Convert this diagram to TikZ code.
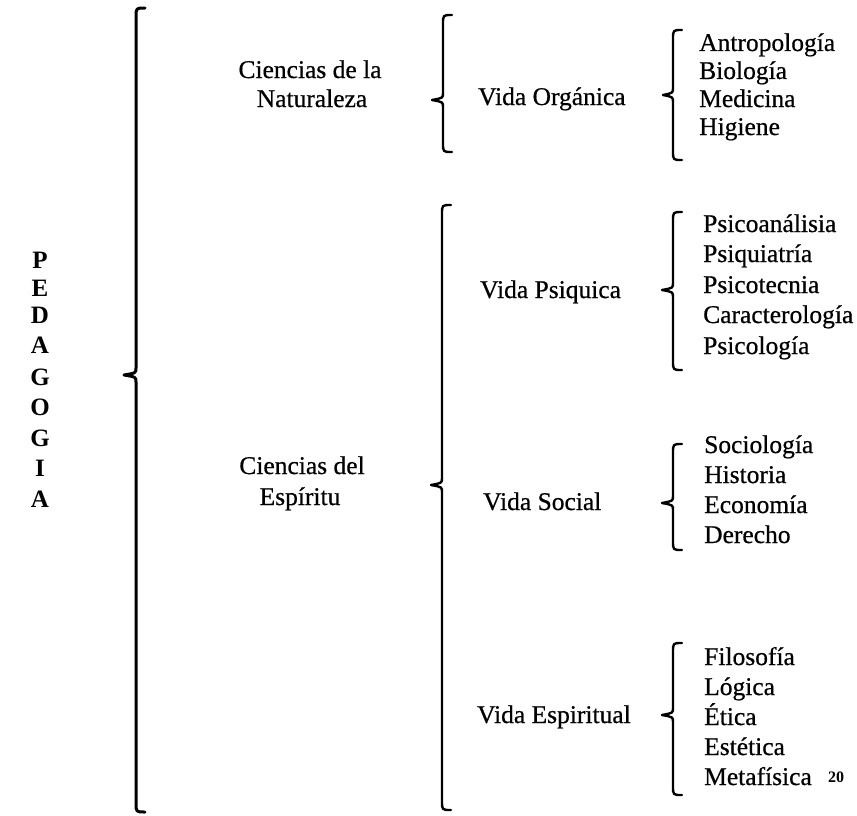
\documentclass[tikz,border=0pt]{standalone}
\usepackage{fontspec}
\setmainfont{Liberation Serif}
\newcommand\mybrace[6][2.4pt]{%
  \draw[line width=#1,line cap=round,line join=round]
    ({#2+9},#3) .. controls (#2,#3) .. (#2,{#3+9})
    -- (#2,{#4-7}) .. controls (#2,{#4-2}) .. ({#2-#6},#4)
    .. controls (#2,{#4+2}) .. (#2,{#4+7})
    -- (#2,{#5-9}) .. controls (#2,#5) .. ({#2+9},#5);}
\begin{document}
\begin{tikzpicture}[x=1pt,y=-1pt,
  txt/.style={inner sep=0pt,anchor=base west,font=\fontsize{25.5}{30}\selectfont\addfontfeature{FakeBold=0.6}},
  ctxt/.style={inner sep=0pt,anchor=base,font=\fontsize{25.5}{30}\selectfont\addfontfeature{FakeBold=0.6}},
  letter/.style={inner sep=0pt,anchor=base,font=\fontsize{25}{28}\selectfont\bfseries}]
\useasboundingbox (0,0) rectangle (857,816);

% PEDAGOGIA
\foreach \l/\y [count=\i] in {P/268,E/296,D/323,A/353,G/385,O/415,G/446,I/476,A/507}
  \node[letter] (ped\i) at (40,\y) {\l};

% big brace
\mybrace[3pt]{136}{8}{375}{812}{12}

% level 1
\node[ctxt] (cn1) at (310,78) {Ciencias de la};
\node[ctxt] (cn2) at (312,107) {Naturaleza};
\node[ctxt] (ce1) at (302,474) {Ciencias del};
\node[ctxt] (ce2) at (300,505) {Espíritu};

\mybrace{443}{15}{100}{152}{11}
\mybrace{442}{205}{485}{810}{11}

% level 2
\node[txt] (vo) at (478,105) {Vida Orgánica};
\node[txt] (vp) at (480,298) {Vida Psiquica};
\node[txt] (vs) at (483,510) {Vida Social};
\node[txt] (ve) at (477,723) {Vida Espiritual};

\mybrace{673}{30}{95}{160}{10}
\mybrace{673}{212}{290}{370}{11}
\mybrace{673}{444}{503}{550}{11}
\mybrace{673}{643}{715}{795}{11}

% level 3
\foreach \t/\y [count=\i] in {Antropología/51,Biología/79,Medicina/107,Higiene/135}
  \node[txt] (a\i) at (699,\y) {\t};
\foreach \t/\y [count=\i] in {Psicoanálisia/232,Psiquiatría/262,Psicotecnia/293,Caracterología/323,Psicología/354}
  \node[txt] (b\i) at (703,\y) {\t};
\foreach \t/\y [count=\i] in {Sociología/453,Historia/483,Economía/513,Derecho/543}
  \node[txt] (c\i) at (704,\y) {\t};
\foreach \t/\y [count=\i] in {Filosofía/665,Lógica/695,Ética/725,Estética/755,Metafísica/785}
  \node[txt] (d\i) at (704,\y) {\t};

\node[inner sep=0pt,anchor=base,font=\fontsize{16}{18}\selectfont\bfseries] (pg) at (836,782) {20};
\end{tikzpicture}
\end{document}
